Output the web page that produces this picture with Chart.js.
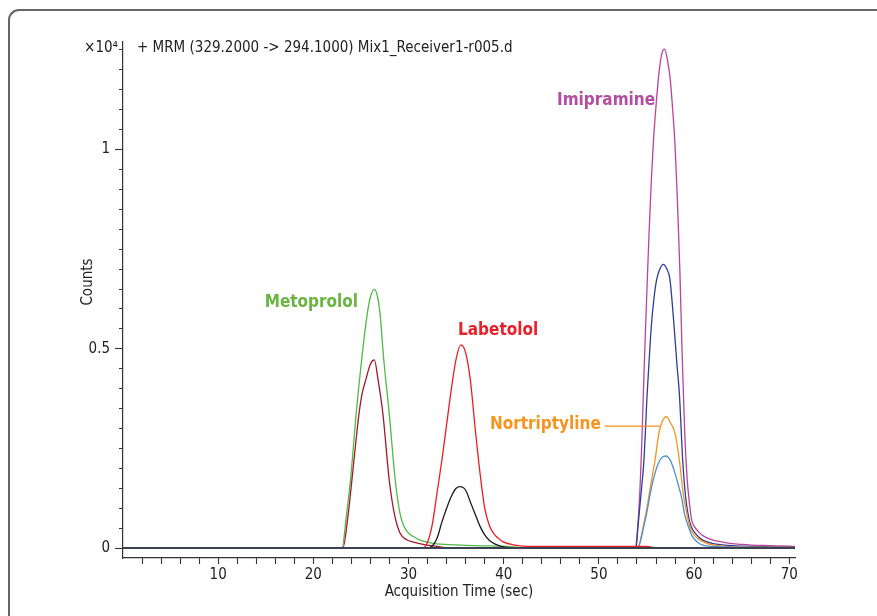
<!DOCTYPE html>
<html>
<head>
<meta charset="utf-8">
<script src="https://cdn.jsdelivr.net/npm/chart.js@4.4.1/dist/chart.umd.min.js"></script>
<style>
  html, body { margin: 0; padding: 0; background: #fff; overflow: hidden; }
  #frame {
    position: absolute; left: 8px; top: 9px; width: 900px; height: 640px;
    border-top: 2px solid #666; border-left: 2px solid #666;
    border-top-left-radius: 11px;
  }
  #chart { position: absolute; left: 0; top: 0; }
</style>
</head>
<body>
<div id="frame"></div>
<canvas id="chart" width="877" height="616"></canvas>
<script>
const FONT = '"Liberation Sans Narrow", "DejaVu Sans Condensed", "Roboto Condensed", Roboto, sans-serif';

// acquisition time (sec) / counts
const metoprololT = [22.5, 23, 23.5, 23.9, 24.5, 25.07, 25.67, 26, 26.4, 26.7, 27, 27.4, 27.97, 28.6, 29.1, 29.5, 30, 30.5, 31.2, 32.6, 35, 37, 39.6, 41, 42];
const metoprololY = [0, 0, 870, 1700, 3380, 4720, 5890, 6300, 6490, 6350, 5890, 4720, 3380, 1707, 870, 550, 375, 290, 200, 117, 80, 60, 50, 30, 0];

const maroonT = [22.8, 23.1, 23.67, 24.05, 24.5, 24.8, 25.1, 25.5, 26, 26.4, 26.8, 27.3, 27.97, 28.5, 29.1, 29.8, 30.5, 31.2, 31.9, 33, 34];
const maroonY = [0, 0, 870, 1707, 2750, 3380, 3850, 4220, 4620, 4720, 4220, 3380, 1707, 870, 375, 210, 150, 110, 75, 40, 0];

const labetololT = [31, 31.5, 32, 32.5, 33, 33.5, 34, 34.5, 35, 35.5, 36, 36.5, 37, 37.5, 38, 38.5, 39, 39.5, 40, 41, 42, 45, 50, 55, 56];
const labetololY = [0, 0, 150, 600, 1400, 2200, 3100, 4000, 4750, 5100, 4900, 4200, 3000, 1900, 1000, 560, 350, 230, 150, 80, 50, 40, 40, 40, 0];

const blackT = [31.5, 32, 32.5, 33, 33.5, 34, 34.5, 35, 35.4, 36, 36.5, 37, 37.5, 38, 38.5, 39, 39.5, 40, 41];
const blackY = [0, 0, 50, 250, 650, 1000, 1300, 1500, 1540, 1450, 1150, 850, 550, 330, 190, 110, 60, 30, 0];

const imipramineT = [53, 53.8, 54, 54.3, 54.5, 54.75, 55, 55.25, 55.5, 55.75, 56, 56.3, 56.6, 56.9, 57.2, 57.5, 57.75, 58, 58.25, 58.5, 58.75, 59, 59.25, 59.5, 59.75, 60, 60.5, 61, 62, 63, 64, 65, 66, 68, 70, 70.6];
const imipramineY = [0, 0, 300, 1400, 2600, 4500, 6200, 7800, 9200, 10300, 11100, 11900, 12400, 12520, 12250, 11750, 11000, 10100, 8700, 7000, 4800, 3000, 1800, 1150, 700, 550, 400, 300, 200, 150, 110, 90, 75, 60, 45, 40];

const navyT = [53, 53.9, 54.1, 54.4, 54.73, 55.07, 55.3, 55.5, 55.8, 56.06, 56.4, 56.76, 57.1, 57.46, 57.7, 57.9, 58.2, 58.45, 58.8, 59.1, 59.4, 59.7, 60.2, 60.7, 61.3, 62, 63, 64, 66, 68, 70.6];
const navyY = [0, 0, 535, 1300, 2210, 3880, 4800, 5555, 6300, 6730, 7000, 7120, 7020, 6750, 6150, 5555, 4600, 3880, 2210, 1300, 800, 535, 350, 230, 160, 110, 80, 60, 40, 30, 20];

const nortriptylineT = [53, 54, 54.3, 54.65, 55, 55.3, 55.6, 55.9, 56.3, 56.7, 57.1, 57.5, 58, 58.45, 58.85, 59.2, 59.55, 60, 60.5, 61.3, 62, 63, 65, 70.6];
const nortriptylineY = [0, 0, 150, 535, 950, 1380, 1800, 2210, 2880, 3200, 3300, 3150, 2880, 2210, 1380, 900, 535, 330, 220, 118, 80, 50, 30, 15];

const lightBlueT = [53, 54.1, 54.4, 54.7, 55, 55.4, 55.8, 56.2, 56.6, 57.05, 57.5, 57.9, 58.3, 58.7, 59, 59.4, 59.8, 60.3, 60.9, 62, 65, 70.6];
const lightBlueY = [0, 0, 200, 535, 850, 1380, 1800, 2100, 2270, 2310, 2200, 1950, 1620, 1250, 850, 535, 300, 160, 75, 40, 20, 10];

const baselineT = [0, 70.6];
const baselineY = [0, 0];

const xMin = 0, xMax = 70.6, yMin = -250, yMax = 12700;
const yTickStep = 500, yMajorStep = 5000, yTickTop = 12500;

const pts = (ts, ys) => ts.map((t, i) => ({ x: t, y: ys[i] }));

function trace(ts, ys, color, order, width) {
  return {
    data: pts(ts, ys), borderColor: color, borderWidth: width || 1.3,
    pointRadius: 0, fill: false, cubicInterpolationMode: 'monotone', order: order
  };
}

// compound labels, anchored in data space
const notes = [
  { text: 'Metoprolol', t: 24.7, v: 6150, align: 'right', color: '#6ab441' },
  { text: 'Labetolol', t: 35.2, v: 5470, align: 'left', color: '#e8202a' },
  { text: 'Imipramine', t: 55.9, v: 11240, align: 'right', color: '#b44c9f' },
  { text: 'Nortriptyline', t: 50.2, v: 3100, align: 'right', color: '#f7941d' }
];
const leader = { t1: 50.6, t2: 56.4, v: 3060, color: '#f7941d' };

const textPlugin = {
  id: 'texts',
  afterDraw(chart) {
    const { ctx, chartArea } = chart;
    const x = chart.scales.x, y = chart.scales.y;
    ctx.save();
    ctx.textBaseline = 'middle';
    ctx.fillStyle = '#222';
    ctx.font = '15px ' + FONT;
    ctx.textAlign = 'left';
    ctx.fillText('+ MRM (329.2000 -> 294.1000) Mix1_Receiver1-r005.d', chartArea.left + 14, chartArea.top + 6);
    ctx.textAlign = 'right';
    ctx.fillText('\u00d710\u2074', chartArea.left - 5, chartArea.top + 6);
    ctx.save();
    ctx.translate(88, (chartArea.top + chartArea.bottom) / 2 - 18);
    ctx.rotate(-Math.PI / 2);
    ctx.textAlign = 'center';
    ctx.fillText('Counts', 0, 0);
    ctx.restore();

    ctx.font = 'bold 17px ' + FONT;
    notes.forEach(n => {
      ctx.fillStyle = n.color;
      ctx.textAlign = n.align;
      ctx.fillText(n.text, x.getPixelForValue(n.t), y.getPixelForValue(n.v));
    });
    ctx.strokeStyle = leader.color;
    ctx.lineWidth = 1.3;
    ctx.beginPath();
    ctx.moveTo(x.getPixelForValue(leader.t1), y.getPixelForValue(leader.v));
    ctx.lineTo(x.getPixelForValue(leader.t2), y.getPixelForValue(leader.v));
    ctx.stroke();
    ctx.restore();
  }
};

const isMajorY = v => Math.abs(v % yMajorStep) < 1e-6;

new Chart(document.getElementById('chart'), {
  type: 'line',
  data: {
    datasets: [
      trace(baselineT, baselineY, '#3a4150', 0, 2),
      trace(labetololT, labetololY, '#ed1c24', 1),
      trace(blackT, blackY, '#1a1a1a', 2),
      trace(maroonT, maroonY, '#a0192c', 3),
      trace(metoprololT, metoprololY, '#52b947', 4),
      trace(lightBlueT, lightBlueY, '#4a8fd2', 5),
      trace(nortriptylineT, nortriptylineY, '#f7941d', 6),
      trace(navyT, navyY, '#2e3d98', 7),
      trace(imipramineT, imipramineY, '#b8449e', 8)
    ]
  },
  options: {
    responsive: false,
    animation: false,
    layout: { padding: { left: 0, right: 82, top: 42, bottom: 0 } },
    plugins: { legend: { display: false }, tooltip: { enabled: false }, title: { display: false } },
    scales: {
      x: {
        type: 'linear', min: xMin, max: xMax,
        afterFit: s => { s.height = 58; },
        border: { color: '#333', width: 1.2 },
        grid: {
          drawOnChartArea: false, tickLength: 6, tickWidth: 1.1,
          tickColor: c => (c.tick && c.tick.value === 0) ? 'rgba(0,0,0,0)' : '#333'
        },
        ticks: {
          stepSize: 2, includeBounds: false, autoSkip: false, maxRotation: 0, padding: 2,
          color: '#222', font: { family: FONT, size: 15 },
          callback: v => (v % 10 === 0 && v !== 0) ? String(v) : ''
        },
        title: {
          display: true, text: 'Acquisition Time (sec)', color: '#222',
          font: { family: FONT, size: 15 }, padding: { top: 0, bottom: 15 }
        }
      },
      y: {
        type: 'linear', min: yMin, max: yMax,
        afterFit: s => { s.width = 123; },
        afterBuildTicks: s => {
          const t = [];
          for (let v = 0; v <= yTickTop; v += yTickStep) t.push({ value: v });
          s.ticks = t;
        },
        border: { color: '#333', width: 1.2 },
        grid: {
          drawOnChartArea: false, tickLength: 8, tickWidth: 1.1, tickColor: '#333',
          tickBorderDash: c => (c.tick && isMajorY(c.tick.value)) ? [] : [0, 4, 20]
        },
        ticks: {
          autoSkip: false, padding: 5,
          color: '#222', font: { family: FONT, size: 15 },
          callback: v => isMajorY(v) ? String(v / 10000) : ''
        }
      }
    }
  },
  plugins: [textPlugin]
});
</script>
</body>
</html>
